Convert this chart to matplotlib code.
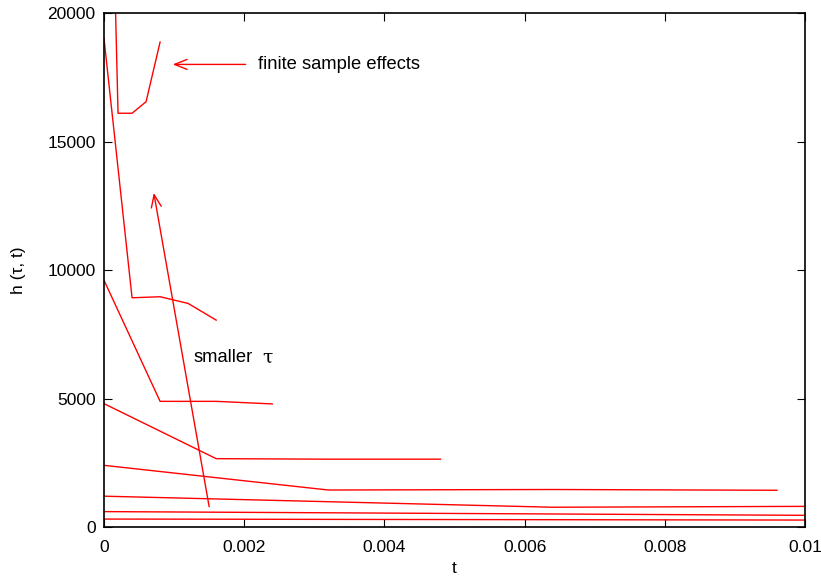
import matplotlib
matplotlib.use("Agg")
import matplotlib.pyplot as plt

plt.rcParams["font.family"] = ["Liberation Sans", "DejaVu Sans"]

# h(tau, t) curves, one per tau
t_a = [0, 0.0002, 0.0004, 0.0006, 0.0008]
h_a = [38400, 16100, 16100, 16550, 18870]
t_b = [0, 0.0004, 0.0008, 0.0012, 0.0016]
h_b = [19000, 8920, 8960, 8700, 8050]
t_c = [0, 0.0008, 0.0016, 0.0024]
h_c = [9600, 4890, 4890, 4790]
t_d = [0, 0.0016, 0.0032, 0.0048]
h_d = [4800, 2660, 2640, 2640]
t_e = [0, 0.0032, 0.0064, 0.0096]
h_e = [2400, 1440, 1460, 1430]
t_f = [0, 0.0064, 0.0128]
h_f = [1200, 770, 830]
t_g = [0, 0.0128]
h_g = [600, 415]
t_h = [0, 0.0128]
h_h = [310, 260]

series = [(t_a, h_a), (t_b, h_b), (t_c, h_c), (t_d, h_d),
          (t_e, h_e), (t_f, h_f), (t_g, h_g), (t_h, h_h)]

x_ticks = [0, 0.002, 0.004, 0.006, 0.008, 0.01]
x_labels = ["0", "0.002", "0.004", "0.006", "0.008", "0.01"]
y_ticks = [0, 5000, 10000, 15000, 20000]

fig = plt.figure(figsize=(8.21, 5.81), dpi=100)
ax = fig.add_axes([0.1267, 0.0929, 0.8538, 0.8847])

for t, h in series:
    ax.plot(t, h, color="red", lw=1.0)

arrow = dict(arrowstyle="->,head_length=0.5,head_width=0.2", color="red",
             lw=1.0, mutation_scale=18, shrinkA=0, shrinkB=0)
ax.annotate("", xy=(0.00098, 18000), xytext=(0.00202, 18000), arrowprops=arrow)
ax.text(0.00219, 18000, "finite sample effects", fontsize=13.2, va="center")
ax.annotate("", xy=(0.00071, 13000), xytext=(0.0015, 790), arrowprops=arrow)
ax.text(0.00127, 6600, "smaller", fontsize=13.2, va="center")
ax.text(0.00226, 6600, "\u03c4", fontsize=13.5, va="center", family="DejaVu Serif")

ax.set_xlim(0, 0.01)
ax.set_ylim(0, 20000)
ax.set_xticks(x_ticks)
ax.set_xticklabels(x_labels)
ax.set_yticks(y_ticks)
ax.tick_params(direction="in", top=True, right=True, length=6, labelsize=12.5)
ax.tick_params(axis="x", pad=9)
ax.tick_params(axis="y", pad=6)
for s in ax.spines.values():
    s.set_linewidth(1.2)
ax.set_xlabel("t", fontsize=12.5, labelpad=5)
ax.set_ylabel("h (\u03c4, t)", fontsize=12.5, labelpad=15)

fig.savefig("out.png", dpi=100)
